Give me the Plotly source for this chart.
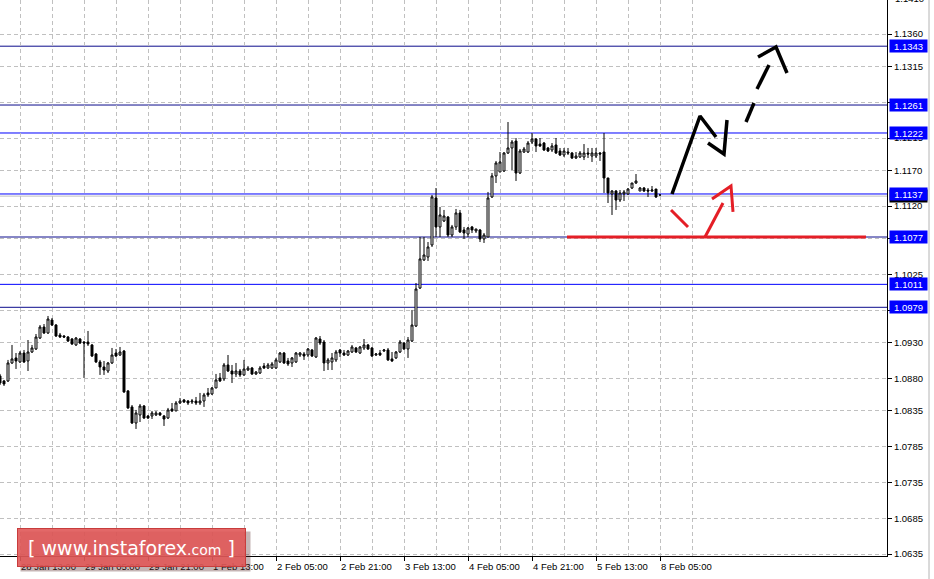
import plotly.graph_objects as go

# ---------------- data (EURUSD H1) ----------------
first_bar = -5  # bar index of first visible candle; bar 0 = "28 Jan 13:00"

opens = [
    1.08833, 1.08763, 1.08763, 1.09014, 1.09084,
    1.09028, 1.09153, 1.09042, 1.09167, 1.09209, 1.09362, 1.09515, 1.09432, 1.09613, 1.09543,
    1.09404, 1.09390, 1.09376, 1.09348, 1.09265, 1.09348, 1.09306, 1.09306, 1.09265, 1.09139,
    1.09028, 1.08958, 1.08902, 1.09014, 1.09153, 1.09125, 1.09181, 1.08624, 1.08401, 1.08177,
    1.08289, 1.08414, 1.08275, 1.08275, 1.08289, 1.08317, 1.08275, 1.08247, 1.08373, 1.08345,
    1.08456, 1.08498, 1.08484, 1.08470, 1.08484, 1.08456, 1.08484, 1.08596, 1.08582, 1.08665,
    1.08805, 1.08791, 1.08986, 1.08902, 1.08860, 1.08902, 1.08847, 1.08916, 1.08944, 1.08860,
    1.08874, 1.08972, 1.08944, 1.08944, 1.08944, 1.09028, 1.09153, 1.09042, 1.09014, 1.09028,
    1.09125, 1.09139, 1.09125, 1.09195, 1.09097, 1.09348, 1.09306, 1.09014, 1.09028, 1.09056,
    1.09195, 1.09153, 1.09125, 1.09167, 1.09223, 1.09153, 1.09223, 1.09265, 1.09223, 1.09125,
    1.09153, 1.09181, 1.09195, 1.09070, 1.09084, 1.09167, 1.09292, 1.09209, 1.09320, 1.09529,
    1.10059, 1.10450, 1.10491, 1.10659, 1.11314, 1.10910, 1.10993, 1.11049, 1.10798, 1.10910,
    1.11105, 1.10868, 1.10812, 1.10910, 1.10854, 1.10868, 1.10742, 1.10770, 1.11328, 1.11621,
    1.11676, 1.11690, 1.11941, 1.12011, 1.12108, 1.11662, 1.11955, 1.11955, 1.12094, 1.12136,
    1.12066, 1.12080, 1.12011, 1.11983, 1.12053, 1.11969, 1.11913, 1.11955, 1.11941, 1.11871,
    1.11885, 1.11885, 1.11941, 1.11899, 1.11899, 1.11941, 1.11955, 1.11593, 1.11370, 1.11411,
    1.11286, 1.11370, 1.11370, 1.11453, 1.11523, 1.11411, 1.11453, 1.11425, 1.11411, 1.11439,
    1.11356,
]
highs = [
    1.08861, 1.08777, 1.09056, 1.09265, 1.09153,
    1.09181, 1.09195, 1.09334, 1.09265, 1.09418, 1.09543, 1.09557, 1.09669, 1.09641, 1.09557,
    1.09432, 1.09404, 1.09390, 1.09362, 1.09376, 1.09362, 1.09320, 1.09460, 1.09279, 1.09153,
    1.09056, 1.09042, 1.09028, 1.09223, 1.09209, 1.09237, 1.09195, 1.08637, 1.08428, 1.08359,
    1.08442, 1.08428, 1.08289, 1.08345, 1.08345, 1.08331, 1.08289, 1.08387, 1.08456, 1.08484,
    1.08526, 1.08512, 1.08498, 1.08512, 1.08540, 1.08596, 1.08596, 1.08665, 1.08679, 1.08861,
    1.08874, 1.09014, 1.09125, 1.08986, 1.09014, 1.08930, 1.09056, 1.08972, 1.08958, 1.08902,
    1.08972, 1.09014, 1.09014, 1.09028, 1.09084, 1.09167, 1.09167, 1.09084, 1.09097, 1.09167,
    1.09167, 1.09167, 1.09223, 1.09209, 1.09376, 1.09390, 1.09334, 1.09084, 1.09153, 1.09195,
    1.09209, 1.09195, 1.09195, 1.09265, 1.09237, 1.09251, 1.09348, 1.09279, 1.09237, 1.09153,
    1.09195, 1.09209, 1.09223, 1.09167, 1.09181, 1.09334, 1.09306, 1.09376, 1.09753, 1.10129,
    1.10770, 1.10770, 1.10700, 1.11356, 1.11453, 1.11189, 1.11147, 1.11063, 1.10938, 1.11161,
    1.11147, 1.10910, 1.10910, 1.10924, 1.10882, 1.10882, 1.10826, 1.11398, 1.11663, 1.11830,
    1.11955, 1.11955, 1.12373, 1.12122, 1.12150, 1.11997, 1.12025, 1.12108, 1.12220, 1.12150,
    1.12150, 1.12094, 1.12025, 1.12080, 1.12150, 1.12011, 1.12011, 1.12011, 1.11955, 1.11955,
    1.11969, 1.12066, 1.12011, 1.12011, 1.12011, 1.11955, 1.12220, 1.11593, 1.11425, 1.11425,
    1.11425, 1.11425, 1.11453, 1.11523, 1.11648, 1.11467, 1.11467, 1.11453, 1.11481, 1.11439,
    1.11356,
]
lows = [
    1.08707, 1.08693, 1.08749, 1.09000, 1.08930,
    1.09014, 1.09014, 1.08902, 1.09153, 1.09195, 1.09348, 1.09418, 1.09418, 1.09529, 1.09376,
    1.09362, 1.09362, 1.09306, 1.09265, 1.09251, 1.09279, 1.08805, 1.09251, 1.09097, 1.09014,
    1.08847, 1.08847, 1.08874, 1.09000, 1.09097, 1.09111, 1.08596, 1.08373, 1.08163, 1.08094,
    1.08191, 1.08233, 1.08233, 1.08233, 1.08275, 1.08275, 1.08136, 1.08233, 1.08331, 1.08345,
    1.08442, 1.08456, 1.08428, 1.08442, 1.08428, 1.08428, 1.08401, 1.08540, 1.08568, 1.08665,
    1.08749, 1.08763, 1.08888, 1.08735, 1.08819, 1.08819, 1.08833, 1.08902, 1.08847, 1.08847,
    1.08860, 1.08930, 1.08930, 1.08930, 1.08930, 1.09014, 1.09000, 1.08972, 1.08958, 1.09014,
    1.09097, 1.09056, 1.09097, 1.09097, 1.09084, 1.09265, 1.08902, 1.08916, 1.08916, 1.09028,
    1.09097, 1.09111, 1.09111, 1.09153, 1.09153, 1.09139, 1.09195, 1.09195, 1.09097, 1.09111,
    1.09111, 1.09167, 1.09042, 1.09028, 1.09070, 1.09153, 1.09195, 1.09084, 1.09306, 1.09515,
    1.10045, 1.10436, 1.10436, 1.10631, 1.10770, 1.10770, 1.10979, 1.10770, 1.10770, 1.10868,
    1.10826, 1.10742, 1.10770, 1.10826, 1.10826, 1.10700, 1.10687, 1.10770, 1.11314, 1.11523,
    1.11676, 1.11676, 1.11927, 1.11704, 1.11551, 1.11648, 1.11941, 1.11941, 1.12066, 1.11955,
    1.12025, 1.11969, 1.11955, 1.11955, 1.11927, 1.11899, 1.11885, 1.11913, 1.11857, 1.11857,
    1.11871, 1.11843, 1.11871, 1.11816, 1.11871, 1.11830, 1.11384, 1.11244, 1.11077, 1.11147,
    1.11258, 1.11272, 1.11356, 1.11439, 1.11509, 1.11411, 1.11398, 1.11328, 1.11398, 1.11314,
    1.11356,
]
closes = [
    1.08735, 1.08721, 1.09014, 1.09070, 1.09042,
    1.09153, 1.09028, 1.09167, 1.09223, 1.09376, 1.09515, 1.09432, 1.09627, 1.09543, 1.09390,
    1.09376, 1.09376, 1.09320, 1.09279, 1.09362, 1.09292, 1.09292, 1.09279, 1.09111, 1.09028,
    1.08958, 1.08916, 1.09014, 1.09125, 1.09111, 1.09167, 1.08610, 1.08387, 1.08177, 1.08317,
    1.08414, 1.08247, 1.08247, 1.08317, 1.08317, 1.08289, 1.08233, 1.08359, 1.08345, 1.08456,
    1.08484, 1.08470, 1.08456, 1.08484, 1.08456, 1.08484, 1.08568, 1.08568, 1.08665, 1.08777,
    1.08763, 1.08986, 1.08902, 1.08860, 1.08902, 1.08847, 1.08930, 1.08944, 1.08860, 1.08888,
    1.08944, 1.08944, 1.08986, 1.09000, 1.09056, 1.09153, 1.09014, 1.09000, 1.09084, 1.09153,
    1.09153, 1.09111, 1.09209, 1.09111, 1.09362, 1.09292, 1.09014, 1.09056, 1.09084, 1.09167,
    1.09153, 1.09125, 1.09181, 1.09237, 1.09167, 1.09237, 1.09265, 1.09209, 1.09111, 1.09139,
    1.09125, 1.09195, 1.09056, 1.09042, 1.09167, 1.09306, 1.09209, 1.09334, 1.09543, 1.10045,
    1.10464, 1.10519, 1.10631, 1.11328, 1.10910, 1.11077, 1.11063, 1.10798, 1.10910, 1.11105,
    1.10840, 1.10826, 1.10896, 1.10868, 1.10882, 1.10742, 1.10798, 1.11314, 1.11621, 1.11802,
    1.11816, 1.11941, 1.12011, 1.12094, 1.11662, 1.11969, 1.11997, 1.12080, 1.12136, 1.12039,
    1.12039, 1.11983, 1.11969, 1.12039, 1.11941, 1.11913, 1.11969, 1.11941, 1.11871, 1.11899,
    1.11941, 1.11941, 1.11927, 1.11941, 1.11941, 1.11927, 1.11593, 1.11384, 1.11411, 1.11286,
    1.11384, 1.11398, 1.11439, 1.11523, 1.11551, 1.11453, 1.11411, 1.11411, 1.11425, 1.11328,
    1.11356,
]

# x-axis labels (bar index -> text), every 16 H1 bars
date_label_bars = [-16, 0, 16, 32, 48, 64, 80, 96, 112, 128, 144, 160]
date_labels = ["27 Jan 21:00", "28 Jan 13:00", "29 Jan 05:00", "29 Jan 21:00", "1 Feb 13:00",
               "2 Feb 05:00", "2 Feb 21:00", "3 Feb 13:00", "4 Feb 05:00", "4 Feb 21:00",
               "5 Feb 13:00", "8 Feb 05:00"]

# price scale ticks
price_ticks = [1.1360, 1.1315, 1.1265, 1.1215, 1.1170, 1.1120, 1.1075, 1.1025, 1.0975,
               1.0930, 1.0880, 1.0835, 1.0785, 1.0735, 1.0685, 1.0635]
top_tick = 1.1410

# horizontal levels (price, line colour)
levels = [1.1343, 1.1261, 1.1222, 1.1137, 1.1077, 1.1011, 1.0979]
level_colors = ["#0c0c8c", "#0c0c8c", "#0000ff", "#0000ff", "#0c0c8c", "#0000ff", "#0c0c8c"]
bid_price = 1.1134

# hand-drawn forecast (bar index, price)
black_path1 = [(163, 1.11370), (170, 1.12457), (174, 1.12164)]
black_path2 = [(172, 1.12081), (176, 1.11927), (176.75, 1.12401)]
black_dashes = [[(181.5, 1.12373), (183.5, 1.12638)], [(184.25, 1.12833), (187.25, 1.13168)]]
black_head = [(184.5, 1.13279), (189, 1.13419), (191.75, 1.13056)]
red_stroke1 = [(162.75, 1.11147), (167, 1.10910)]
red_stroke2 = [(171.25, 1.10770), (175.75, 1.11244)]
red_head = [(173, 1.11300), (177.75, 1.11481), (178.25, 1.11119)]
red_level = 1.1077
red_level_span = (136.75, 211.5)

# ---------------- figure ----------------
W, H = 934, 579
ML, MR, MT, MB = 0, 47, 0, 23
PW, PH = W - ML - MR, H - MT - MB
x_range = [-5.0, 216.75]
y_range = [1.06323, 1.14074]
FONT = "Liberation Sans"
FS = 9.5

bars = list(range(first_bar, first_bar + len(opens)))

fig = go.Figure()
fig.add_trace(go.Candlestick(
    x=bars, open=opens, high=highs, low=lows, close=closes,
    increasing=dict(line=dict(color="black", width=1), fillcolor="white"),
    decreasing=dict(line=dict(color="black", width=1), fillcolor="black"),
    whiskerwidth=0, showlegend=False, hoverinfo="skip",
))


def add_path(pts, color, width, dash="solid"):
    fig.add_trace(go.Scatter(x=[p[0] for p in pts], y=[p[1] for p in pts], mode="lines",
                             line=dict(color=color, width=width, dash=dash),
                             showlegend=False, hoverinfo="skip"))


RED = "#e41e26"
add_path([(red_level_span[0], red_level), (red_level_span[1], red_level)], RED, 3)
add_path(black_path1, "black", 3.5)
add_path(black_path2, "black", 3.5)
for d in black_dashes:
    add_path(d, "black", 3.5)
add_path(black_head, "black", 3.5)
add_path(red_stroke1, RED, 3)
add_path(red_stroke2, RED, 3)
add_path(red_head, RED, 3)

shapes = []
shapes.append(dict(type="line", xref="paper", x0=0, x1=1, yref="y", y0=bid_price, y1=bid_price,
                   line=dict(color="#c0c0c0", width=1), layer="below"))
for lv, col in zip(levels, level_colors):
    shapes.append(dict(type="line", xref="paper", x0=0, x1=1, yref="y", y0=lv, y1=lv,
                       line=dict(color=col, width=1), layer="below"))
# neighbouring window edge at far right
shapes.append(dict(type="line", xref="paper", x0=(929 - ML) / PW, x1=(929 - ML) / PW,
                   yref="paper", y0=-MB / PH, y1=1, line=dict(color="#b4b4b4", width=1)))

annotations = []
# date labels
for b, t in zip(date_label_bars, date_labels):
    annotations.append(dict(x=b, xref="x", y=0, yref="paper", text=t, showarrow=False,
                            xanchor="left", yanchor="top", xshift=-1, yshift=-3,
                            font=dict(family=FONT, size=FS, color="black")))
# partially visible top tick label
annotations.append(dict(x=1, xref="paper", y=(top_tick - y_range[0]) / (y_range[1] - y_range[0]),
                        yref="paper", text=f"{top_tick:.4f}", showarrow=False, xanchor="left",
                        yanchor="middle", xshift=6, font=dict(family=FONT, size=FS, color="black")))
# bid label (mostly hidden)
annotations.append(dict(x=1, xref="paper", y=bid_price, yref="y", text=f"{bid_price:.4f}",
                        showarrow=False, xanchor="left", yanchor="middle", xshift=2,
                        bgcolor="black", width=35, height=10, borderpad=1,
                        font=dict(family=FONT, size=FS, color="white")))
# level labels
for lv in levels:
    annotations.append(dict(x=1, xref="paper", y=lv, yref="y", text=f"{lv:.4f}", showarrow=False,
                            xanchor="left", yanchor="middle", xshift=2, bgcolor="#0000ff",
                            width=35, height=10, borderpad=1,
                            font=dict(family=FONT, size=FS, color="white")))
# watermark
wm_x0, wm_y0, wm_w, wm_h = 17, 528, 227, 37
annotations.append(dict(x=(wm_x0 + 3) / PW, xref="paper", y=1 - (wm_y0 + 3) / PH, yref="paper",
                        xanchor="left", yanchor="top", text="", showarrow=False,
                        width=wm_w, height=wm_h, bgcolor="rgba(90,40,40,0.35)"))
annotations.append(dict(x=wm_x0 / PW, xref="paper", y=1 - wm_y0 / PH, yref="paper",
                        xanchor="left", yanchor="top", showarrow=False,
                        width=wm_w - 2, height=wm_h - 2, bgcolor="rgba(224,88,88,0.9)",
                        bordercolor="rgba(200,60,60,1)", borderwidth=1,
                        text="[ www.instaforex<span style='font-size:14px'>.com</span> ]",
                        font=dict(family="DejaVu Sans", size=19, color="white")))

tick_bars = date_label_bars[1:]
fig.update_layout(
    width=W, height=H, margin=dict(l=ML, r=MR, t=MT, b=MB, autoexpand=False),
    paper_bgcolor="white", plot_bgcolor="white",
    shapes=shapes, annotations=annotations,
    xaxis=dict(range=x_range, rangeslider=dict(visible=False), tickmode="array",
               tickvals=tick_bars, showticklabels=False, ticks="outside", ticklen=4,
               tickcolor="black", showline=True, linecolor="black", linewidth=1,
               showgrid=True, gridcolor="#c0c0c0", griddash="4px,3px", zeroline=False,
               minor=dict(tickmode="array", tickvals=[b + 8 for b in tick_bars] + [-8, 0],
                          showgrid=True, gridcolor="#c0c0c0", griddash="4px,3px", ticks="")),
    yaxis=dict(range=y_range, side="right", tickmode="array", tickvals=price_ticks,
               ticktext=[f"{v:.4f}" for v in price_ticks], ticks="outside", ticklen=4,
               tickcolor="black", showline=True, linecolor="black", linewidth=1,
               showgrid=True, gridcolor="#c0c0c0", griddash="4px,3px", zeroline=False,
               automargin=False, tickfont=dict(family=FONT, size=FS, color="black")),
    hovermode=False,
)

fig.write_html("out.html", config={"displayModeBar": False},
               post_script="document.body.style.margin='0';document.body.style.overflow='hidden';")
